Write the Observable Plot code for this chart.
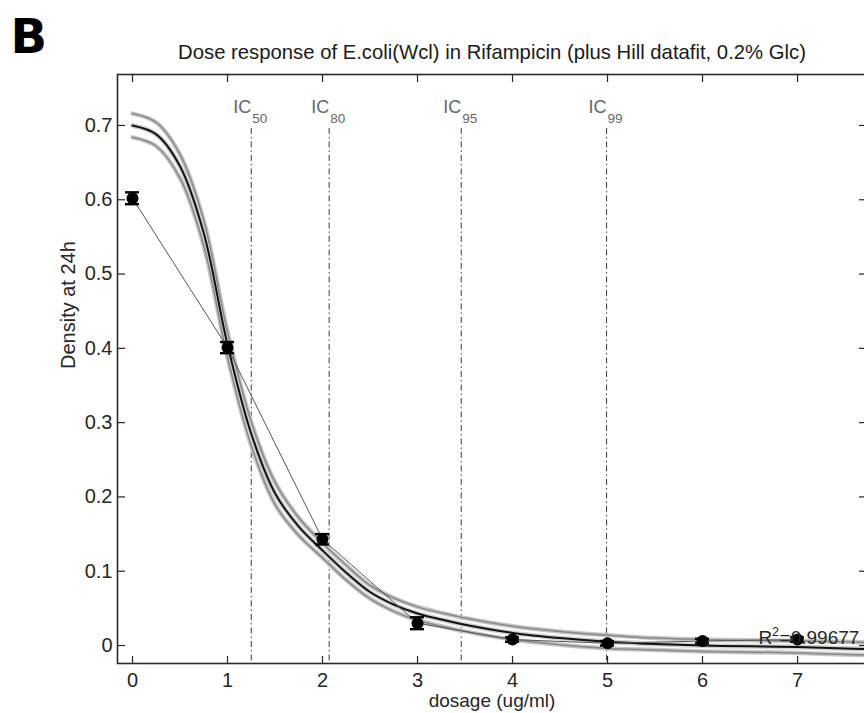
<!DOCTYPE html>
<html>
<head>
<meta charset="utf-8">
<script src="https://cdn.jsdelivr.net/npm/d3@7"></script>
<script src="https://cdn.jsdelivr.net/npm/@observablehq/plot@0.6"></script>
<style>
  html, body { margin: 0; padding: 0; background: #fff; overflow: hidden; }
  #chart svg { display: block; max-width: none !important; }
</style>
</head>
<body>
<div id="chart"></div>
<script>
// Measured optical density after 24 h, per rifampicin dose
const doses = [0, 1, 2, 3, 4, 5, 6, 7];
const density = [0.602, 0.401, 0.143, 0.030, 0.008, 0.003, 0.006, 0.008];
const densityErr = [0.008, 0.0075, 0.007, 0.008, 0.003, 0.003, 0.003, 0.003];

// Hill fit and its confidence band
const fitDose  = [0, 0.25, 0.5, 0.75, 1.0, 1.25, 1.5, 1.75, 2.0, 2.25, 2.5, 2.75, 3.0, 3.25, 3.5, 4.0, 4.5, 5.0, 5.5, 6.0, 6.5, 7.0, 7.5, 7.75];
const fitMid   = [0.700, 0.688, 0.645, 0.555, 0.405, 0.285, 0.205, 0.160, 0.128, 0.098, 0.072, 0.055, 0.043, 0.035, 0.028, 0.017, 0.010, 0.005, 0.002, 0.000, -0.001, -0.002, -0.004, -0.005];
const fitUpper = [0.716, 0.704, 0.661, 0.572, 0.422, 0.301, 0.220, 0.172, 0.138, 0.108, 0.081, 0.064, 0.052, 0.044, 0.037, 0.026, 0.019, 0.014, 0.010, 0.008, 0.007, 0.006, 0.005, 0.004];
const fitLower = [0.684, 0.672, 0.629, 0.538, 0.388, 0.269, 0.190, 0.148, 0.118, 0.088, 0.063, 0.046, 0.034, 0.026, 0.019, 0.008, 0.001, -0.004, -0.006, -0.008, -0.009, -0.010, -0.012, -0.013];

// Inhibitory concentrations
const icLevels = ["50", "80", "95", "99"];
const icDoses = [1.25, 2.07, 3.46, 4.99];

const rSquared = "0.99677";
const xTicks = [0, 1, 2, 3, 4, 5, 6, 7];
const yTicks = [0, 0.1, 0.2, 0.3, 0.4, 0.5, 0.6, 0.7];

const points = doses.map((d, i) => ({dose: d, density: density[i], err: densityErr[i]}));
const fit = fitDose.map((d, i) => ({dose: d, mid: fitMid[i], upper: fitUpper[i], lower: fitLower[i]}));
const ic = icDoses.map((d, i) => ({dose: d, level: icLevels[i]}));

const xDomain = [-0.158, 7.726];
const yDomain = [-0.0242, 0.7686];
const icTop = 0.696;
const icLabelY = 0.717;
const r2Spot = [{x: 6.59, y: 0.0025}];

const ink = "#262626";
const font = "'Liberation Sans', Arial, Helvetica, sans-serif";

const chart = Plot.plot({
  width: 880,
  height: 713,
  marginLeft: 117,
  marginRight: 14,
  marginTop: 74,
  marginBottom: 50,
  style: {fontFamily: font, fontSize: "20px", color: ink, background: "#fff"},
  x: {domain: xDomain},
  y: {domain: yDomain},
  marks: [
    // IC guide lines
    Plot.ruleX(ic, {x: "dose", y1: icTop, y2: yDomain[0], stroke: "#3a3a3a", strokeWidth: 1, strokeDasharray: "6,3,1.5,3"}),
    Plot.text(ic, {x: "dose", y: icLabelY, text: () => "IC", textAnchor: "end", lineAnchor: "bottom", fill: "#666", fontSize: 18}),
    Plot.text(ic, {x: "dose", y: icLabelY, text: "level", textAnchor: "start", lineAnchor: "bottom", dx: 1, dy: 10, fill: "#666", fontSize: 13.5}),

    // confidence band edges and fitted curve
    Plot.line(fit, {x: "dose", y: "upper", curve: "catmull-rom", stroke: "#c6c6c6", strokeWidth: 4.5}),
    Plot.line(fit, {x: "dose", y: "lower", curve: "catmull-rom", stroke: "#c6c6c6", strokeWidth: 4.5}),
    Plot.line(fit, {x: "dose", y: "mid", curve: "catmull-rom", stroke: "#d0d0d0", strokeWidth: 5}),
    Plot.line(fit, {x: "dose", y: "upper", curve: "catmull-rom", stroke: "#888", strokeWidth: 1.5}),
    Plot.line(fit, {x: "dose", y: "lower", curve: "catmull-rom", stroke: "#888", strokeWidth: 1.5}),
    Plot.line(fit, {x: "dose", y: "mid", curve: "catmull-rom", stroke: "#111", strokeWidth: 2}),

    // measured data joined point to point, with error bars
    Plot.line(points, {x: "dose", y: "density", stroke: "#555", strokeWidth: 1}),
    Plot.ruleX(points, {x: "dose", y1: d => d.density - d.err, y2: d => d.density + d.err, stroke: "#000", strokeWidth: 1.5}),
    Plot.ruleY(points, {x1: "dose", x2: "dose", y: d => d.density - d.err, insetLeft: -7, insetRight: -7, stroke: "#000", strokeWidth: 2.4}),
    Plot.ruleY(points, {x1: "dose", x2: "dose", y: d => d.density + d.err, insetLeft: -7, insetRight: -7, stroke: "#000", strokeWidth: 2.4}),
    Plot.dot(points, {x: "dose", y: "density", r: 6, fill: "#000", stroke: "none"}),

    // R squared of the fit
    Plot.text(r2Spot, {x: "x", y: "y", text: () => "R", textAnchor: "start", lineAnchor: "bottom", fill: ink, fontSize: 19}),
    Plot.text(r2Spot, {x: "x", y: "y", text: () => "2", textAnchor: "start", lineAnchor: "bottom", dx: 13.5, dy: -8, fill: ink, fontSize: 12.5}),
    Plot.text(r2Spot, {x: "x", y: "y", text: () => "=" + rSquared, textAnchor: "start", lineAnchor: "bottom", dx: 21, fill: ink, fontSize: 19}),

    // axes: inward ticks on all four sides
    Plot.axisY({ticks: yTicks, tickSize: 8, dx: 8, text: null, stroke: ink, strokeWidth: 1.2}),
    Plot.axisY({ticks: yTicks, anchor: "right", tickSize: 8, dx: -8, text: null, stroke: ink, strokeWidth: 1.2}),
    Plot.axisY({ticks: yTicks, tickSize: 0, tickPadding: 5, tickFormat: d => d === 0 ? "0" : d3.format(".1f")(d), fill: ink, label: null}),
    Plot.axisX({ticks: xTicks, tickSize: 7, dy: -7, text: null, stroke: ink, strokeWidth: 1.2}),
    Plot.axisX({ticks: xTicks, anchor: "top", tickSize: 7, dy: 7, text: null, stroke: ink, strokeWidth: 1.2}),
    Plot.axisX({ticks: xTicks, tickSize: 0, tickPadding: 9, tickFormat: d3.format("d"), fill: ink, label: null}),
    Plot.frame({stroke: "#2a2a2a", strokeWidth: 1.6}),

    // titles
    Plot.text(["dosage (ug/ml)"], {frameAnchor: "bottom", text: d => d, lineAnchor: "bottom", dy: 43, fill: ink, fontSize: 19}),
    Plot.text(["Density at 24h"], {frameAnchor: "left", text: d => d, rotate: -90, dx: -49, fill: ink, fontSize: 20}),
    Plot.text(["Dose response of E.coli(Wcl) in Rifampicin (plus Hill datafit, 0.2% Glc)"], {frameAnchor: "top", text: d => d, lineAnchor: "bottom", dy: -16, fill: "#1a1a1a", fontSize: 20.3}),
    Plot.text(["B"], {frameAnchor: "top-left", text: d => d, textAnchor: "start", lineAnchor: "bottom", dx: -107, dy: -22, fill: "#000", fontSize: 48, fontWeight: 700, fontFamily: "'DejaVu Sans', 'Open Sans', sans-serif"})
  ]
});

document.getElementById("chart").appendChild(chart);
</script>
</body>
</html>
